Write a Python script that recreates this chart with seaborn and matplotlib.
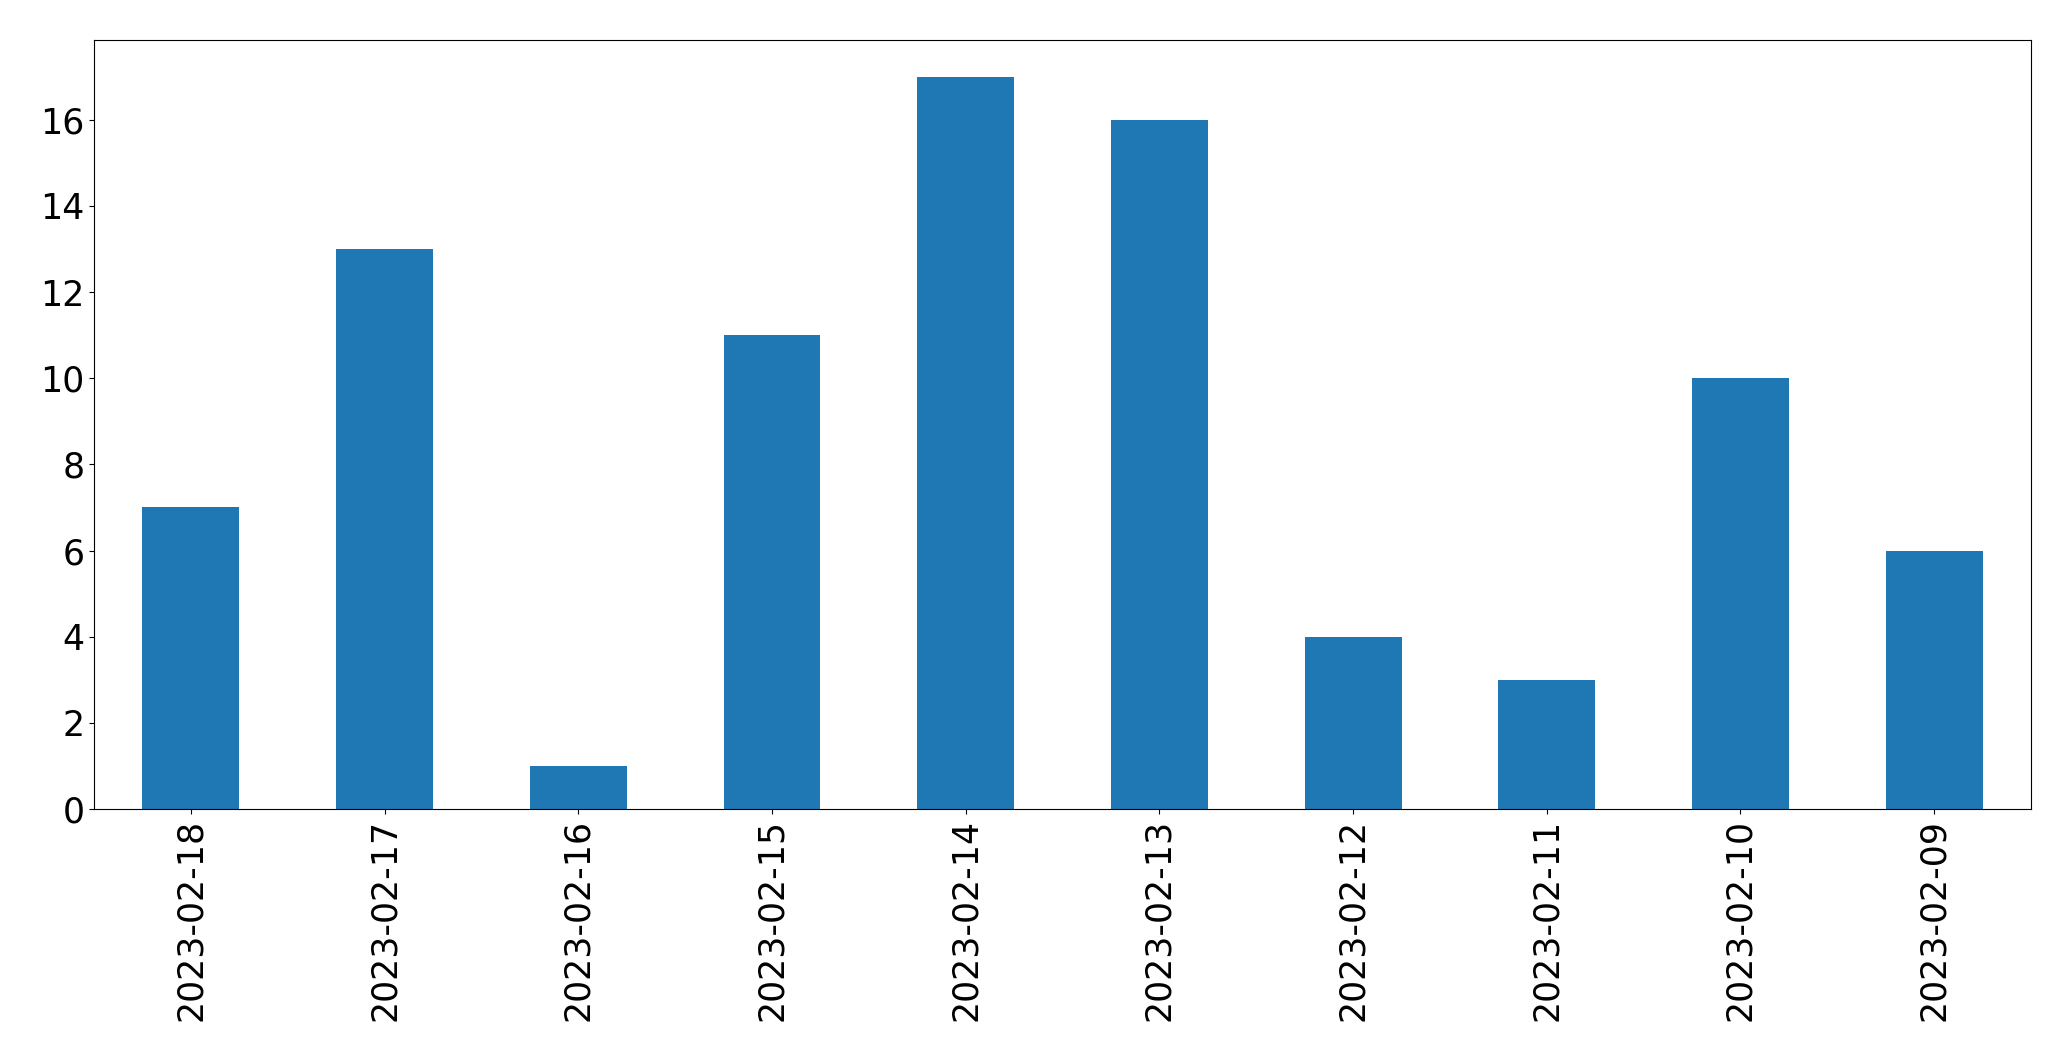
import matplotlib
matplotlib.use("Agg")
import matplotlib.pyplot as plt
import seaborn as sns
import pandas as pd

dates = ["2023-02-18", "2023-02-17", "2023-02-16", "2023-02-15", "2023-02-14",
         "2023-02-13", "2023-02-12", "2023-02-11", "2023-02-10", "2023-02-09"]
counts = [7, 13, 1, 11, 17, 16, 4, 3, 10, 6]

df = pd.DataFrame({"date": dates, "count": counts})

fig, ax = plt.subplots(figsize=(20.71, 10.61), dpi=100)
fig.subplots_adjust(left=0.0454, right=0.9807, bottom=0.2375, top=0.9623)

sns.barplot(data=df, x="date", y="count", order=dates, color="#1f77b4",
            saturation=1, width=0.5, ax=ax)

ax.set_xlim(-0.5, len(dates) - 0.5)
ax.set_ylim(0, max(counts) * 1.05)
ax.set_xlabel("")
ax.set_ylabel("")
ax.tick_params(axis="both", labelsize=25)
ax.tick_params(axis="x", labelrotation=90)
for s in ax.spines.values():
    s.set_visible(True)
    s.set_color("black")

fig.savefig("out.png", dpi=100)
